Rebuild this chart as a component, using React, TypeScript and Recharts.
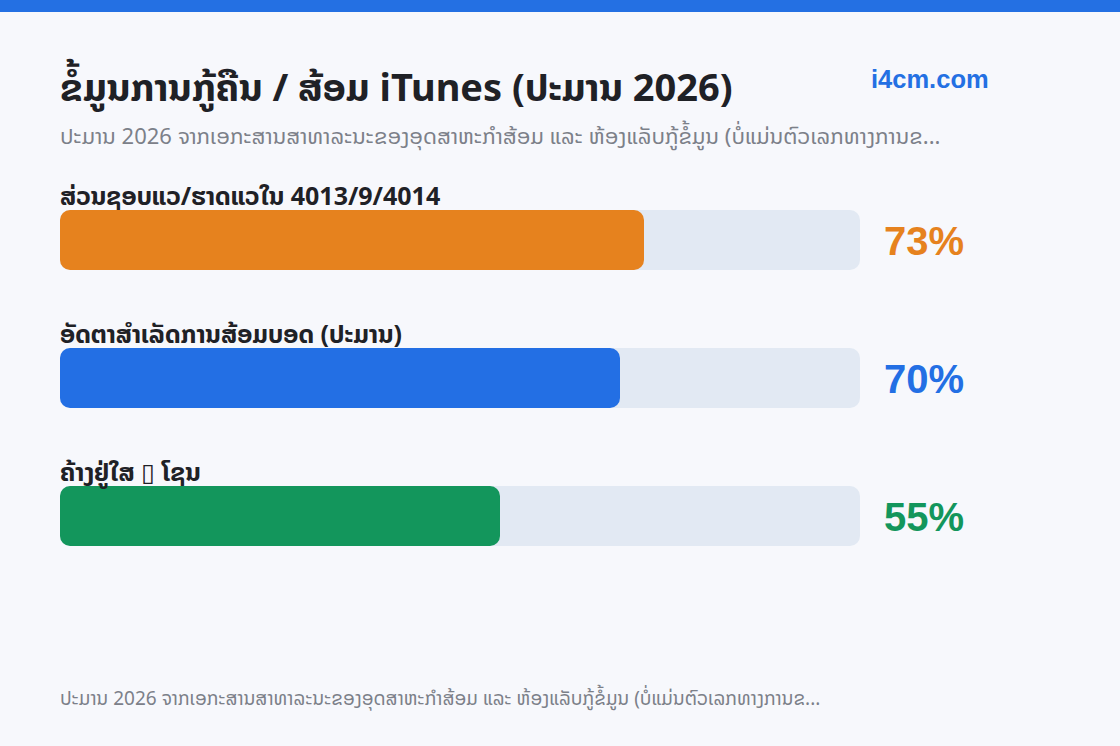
import { BarChart, Bar, XAxis, YAxis, Cell, LabelList } from 'recharts';

const categories = [
  'ສ່ວນຊອບແວ/ຮາດແວໃນ 4013/9/4014',
  'ອັດຕາສຳເລັດການສ້ອມບອດ (ປະມານ)',
  'ຄ້າງຢູ່ໃສ ▯ ໂຊນ',
];
const percentValues = [73, 70, 55];
const barColors = ['#e6821e', '#236fe4', '#13965c'];

const title = 'ຂໍ້ມູນການກູ້ຄືນ / ສ້ອມ iTunes (ປະມານ 2026)';
const subtitle =
  'ປະມານ 2026 ຈາກເອກະສານສາທາລະນະຂອງອຸດສາຫະກຳສ້ອມ ແລະ ຫ້ອງແລັບກູ້ຂໍ້ມູນ (ບໍ່ແມ່ນຕົວເລກທາງການຂ...';
const brand = 'i4cm.com';

const data = categories.map((name, i) => ({ name, value: percentValues[i] }));

const laoFont = '"Noto Sans", "Noto Sans Lao", "DejaVu Sans", sans-serif';
const numFont = '"Liberation Sans", Arial, sans-serif';

function CategoryLabel(props: any) {
  const { x, y, index } = props;
  return (
    <text x={x} y={y - 5} fill="#1f2126" fontSize={25} fontWeight={700} fontFamily={laoFont}>
      {categories[index]}
    </text>
  );
}

function PercentLabel(props: any) {
  const { x, y, width, height, index, value } = props;
  const trackEnd = x + (width * 100) / value;
  return (
    <text
      x={trackEnd + 24}
      y={y + height / 2 + 15}
      fill={barColors[index]}
      fontSize={40}
      fontWeight={700}
      fontFamily={numFont}
    >
      {value}%
    </text>
  );
}

export default function App() {
  return (
    <div style={{ position: 'relative', width: 1120, height: 746, background: '#f7f8fc', overflow: 'hidden' }}>
      <style>{'body{margin:0}'}</style>
      <div style={{ position: 'absolute', left: 0, top: 0, width: 1120, height: 12, background: '#2470e3' }} />
      <div
        style={{
          position: 'absolute',
          left: 60,
          top: 61,
          fontFamily: laoFont,
          fontSize: 38,
          fontWeight: 700,
          color: '#1f2126',
          whiteSpace: 'nowrap',
          lineHeight: '50px',
        }}
      >
        {title}
      </div>
      <div
        style={{
          position: 'absolute',
          left: 871,
          top: 64,
          fontFamily: numFont,
          fontSize: 25.5,
          fontWeight: 700,
          color: '#2470e3',
          lineHeight: '30px',
        }}
      >
        {brand}
      </div>
      <div
        style={{
          position: 'absolute',
          left: 60,
          top: 120,
          fontFamily: laoFont,
          fontSize: 22,
          color: '#7c8089',
          whiteSpace: 'nowrap',
          lineHeight: '30px',
        }}
      >
        {subtitle}
      </div>
      <div style={{ position: 'absolute', left: 0, top: 0 }}>
        <BarChart
          width={1120}
          height={746}
          data={data}
          layout="vertical"
          margin={{ top: 171, right: 260, bottom: 161, left: 60 }}
          barCategoryGap={0}
        >
          <XAxis type="number" domain={[0, 100]} hide />
          <YAxis type="category" dataKey="name" hide />
          <Bar
            dataKey="value"
            barSize={60}
            radius={10}
            background={{ fill: '#e2e9f3', radius: 10 } as any}
            isAnimationActive={false}
          >
            {data.map((d, i) => (
              <Cell key={d.name} fill={barColors[i]} />
            ))}
            <LabelList dataKey="value" content={CategoryLabel} />
            <LabelList dataKey="value" content={PercentLabel} />
          </Bar>
        </BarChart>
      </div>
      <div
        style={{
          position: 'absolute',
          left: 60,
          top: 684,
          fontFamily: laoFont,
          fontSize: 19,
          color: '#7c8089',
          whiteSpace: 'nowrap',
          lineHeight: '28px',
        }}
      >
        {subtitle}
      </div>
    </div>
  );
}
